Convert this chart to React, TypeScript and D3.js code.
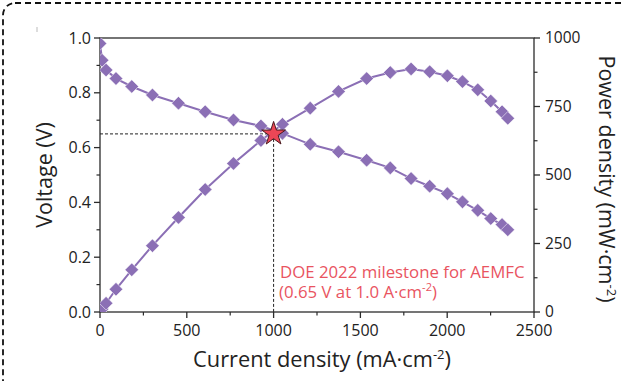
import React from "react";
import * as d3 from "d3";

const current = [0, 12, 35, 92, 183, 302, 452, 606, 769, 927, 1051, 1211, 1374, 1536, 1672, 1792, 1899, 2001, 2088, 2176, 2251, 2316, 2349];
const voltage = [0.98, 0.919, 0.883, 0.852, 0.823, 0.792, 0.762, 0.731, 0.701, 0.679, 0.652, 0.612, 0.585, 0.554, 0.526, 0.487, 0.459, 0.432, 0.402, 0.371, 0.341, 0.319, 0.3];
const power = [0, 11, 32, 83, 154, 242, 345, 447, 542, 626, 685, 744, 805, 852, 874, 887, 877, 862, 841, 811, 770, 731, 707];

const xTicks = [0, 500, 1000, 1500, 2000, 2500];
const xMinor = [250, 750, 1250, 1750, 2250];
const vTicks = [0, 0.2, 0.4, 0.6, 0.8, 1.0];
const vMinor = [0.1, 0.3, 0.5, 0.7, 0.9];
const pTicks = [0, 250, 500, 750, 1000];
const pMinor = [125, 375, 625, 875];

const milestone = { current: 1000, voltage: 0.65 };
const noteLines = ["DOE 2022 milestone for AEMFC", "(0.65 V at 1.0 A·cm"];

const W = 624;
const H = 381;
const L = 100, R = 534, T = 38, B = 312;
const PURPLE = "#8b6fb5";
const AXIS = "#2b2b2b";
const FONT = "'Open Sans', sans-serif";

export default function App() {
  const x = d3.scaleLinear().domain([0, 2500]).range([L, R]);
  const yV = d3.scaleLinear().domain([0, 1]).range([B, T]);
  const yP = d3.scaleLinear().domain([0, 1000]).range([B, T]);

  const vPts = current.map((c, i) => [x(c), yV(voltage[i])] as [number, number]);
  const pPts = current.map((c, i) => [x(c), yP(power[i])] as [number, number]);
  const line = d3.line();
  const diamond = d3.symbol().type(d3.symbolSquare).size(92)();
  const star = d3.symbol().type(d3.symbolStar).size(175)();

  const sx = x(milestone.current);
  const sy = yV(milestone.voltage);

  return (
    <svg width={W} height={H} style={{ position: "absolute", left: 0, top: 0, background: "#fff" }} fontFamily={FONT}>
      <defs>
        <clipPath id="plot">
          <rect x={L} y={T} width={R - L} height={B - T} />
        </clipPath>
      </defs>
      <rect x={3} y={3} width={W + 20} height={H + 20} rx={12} fill="none" stroke="#111" strokeWidth={1.8} strokeDasharray="6,4" />
      <line x1={37} x2={37} y1={27} y2={32} stroke="#bbb" strokeWidth={1} />

      {/* frame */}
      <rect x={L} y={T} width={R - L} height={B - T} fill="none" stroke={AXIS} strokeWidth={1.3} />

      {/* dashed guides */}
      <line x1={L} x2={sx} y1={sy} y2={sy} stroke="#222" strokeWidth={1} strokeDasharray="3,2" />
      <line x1={sx} x2={sx} y1={sy} y2={B} stroke="#222" strokeWidth={1} strokeDasharray="3,2" />

      <g clipPath="url(#plot)">
        <path d={line(vPts) || ""} fill="none" stroke={PURPLE} strokeWidth={2} />
        <path d={line(pPts) || ""} fill="none" stroke={PURPLE} strokeWidth={2} />
        {vPts.map((p, i) => (
          <path key={"v" + i} d={diamond || ""} transform={`translate(${p[0]},${p[1]}) rotate(45)`} fill={PURPLE} stroke="#fff" strokeWidth={0.5} />
        ))}
        {pPts.map((p, i) => (
          <path key={"p" + i} d={diamond || ""} transform={`translate(${p[0]},${p[1]}) rotate(45)`} fill={PURPLE} stroke="#fff" strokeWidth={0.5} />
        ))}
      </g>

      <path d={star || ""} transform={`translate(${sx},${sy})`} fill="#ec4656" stroke="#4a1a1e" strokeWidth={1} />

      {/* left axis */}
      {vTicks.map((t) => (
        <g key={"vt" + t}>
          <line x1={L - 6} x2={L} y1={yV(t)} y2={yV(t)} stroke={AXIS} strokeWidth={1.3} />
          <text x={L - 9} y={yV(t)} dy="0.35em" textAnchor="end" fontSize={16} fill="#222">{t.toFixed(1)}</text>
        </g>
      ))}
      {vMinor.map((t) => (
        <line key={"vm" + t} x1={L - 3.5} x2={L} y1={yV(t)} y2={yV(t)} stroke={AXIS} strokeWidth={1.2} />
      ))}

      {/* right axis */}
      {pTicks.map((t) => (
        <g key={"pt" + t}>
          <line x1={R} x2={R + 6} y1={yP(t)} y2={yP(t)} stroke={AXIS} strokeWidth={1.3} />
          <text x={R + 11} y={yP(t)} dy="0.35em" textAnchor="start" fontSize={15.5} fill="#222">{t}</text>
        </g>
      ))}
      {pMinor.map((t) => (
        <line key={"pm" + t} x1={R} x2={R + 3.5} y1={yP(t)} y2={yP(t)} stroke={AXIS} strokeWidth={1.2} />
      ))}

      {/* bottom axis */}
      {xTicks.map((t) => (
        <g key={"xt" + t}>
          <line x1={x(t)} x2={x(t)} y1={B} y2={B + 6} stroke={AXIS} strokeWidth={1.3} />
          <text x={x(t)} y={B + 24} textAnchor="middle" fontSize={16} fill="#222">{t}</text>
        </g>
      ))}
      {xMinor.map((t) => (
        <line key={"xm" + t} x1={x(t)} x2={x(t)} y1={B} y2={B + 3.5} stroke={AXIS} strokeWidth={1.2} />
      ))}

      {/* axis titles */}
      <text x={(L + R) / 2 + 5} y={367} textAnchor="middle" fontSize={21.8} fill="#222">
        Current density (mA·cm<tspan dy={-8} fontSize={13}>-2</tspan><tspan dy={8}>)</tspan>
      </text>
      <text transform={`translate(52,${(T + B) / 2}) rotate(-90)`} textAnchor="middle" fontSize={21.5} fill="#222">
        Voltage (V)
      </text>
      <text transform={`translate(599,${(T + B) / 2 + 4}) rotate(90)`} textAnchor="middle" fontSize={21.5} fill="#222">
        Power density (mW·cm<tspan dy={-8} fontSize={13}>-2</tspan><tspan dy={8}>)</tspan>
      </text>

      {/* annotation */}
      <text x={280} y={278} fontSize={16.8} fill="#e9545f">{noteLines[0]}</text>
      <text x={279} y={297.5} fontSize={16.8} fill="#e9545f">
        {noteLines[1]}<tspan dy={-7} fontSize={11}>-2</tspan><tspan dy={7}>)</tspan>
      </text>
    </svg>
  );
}
